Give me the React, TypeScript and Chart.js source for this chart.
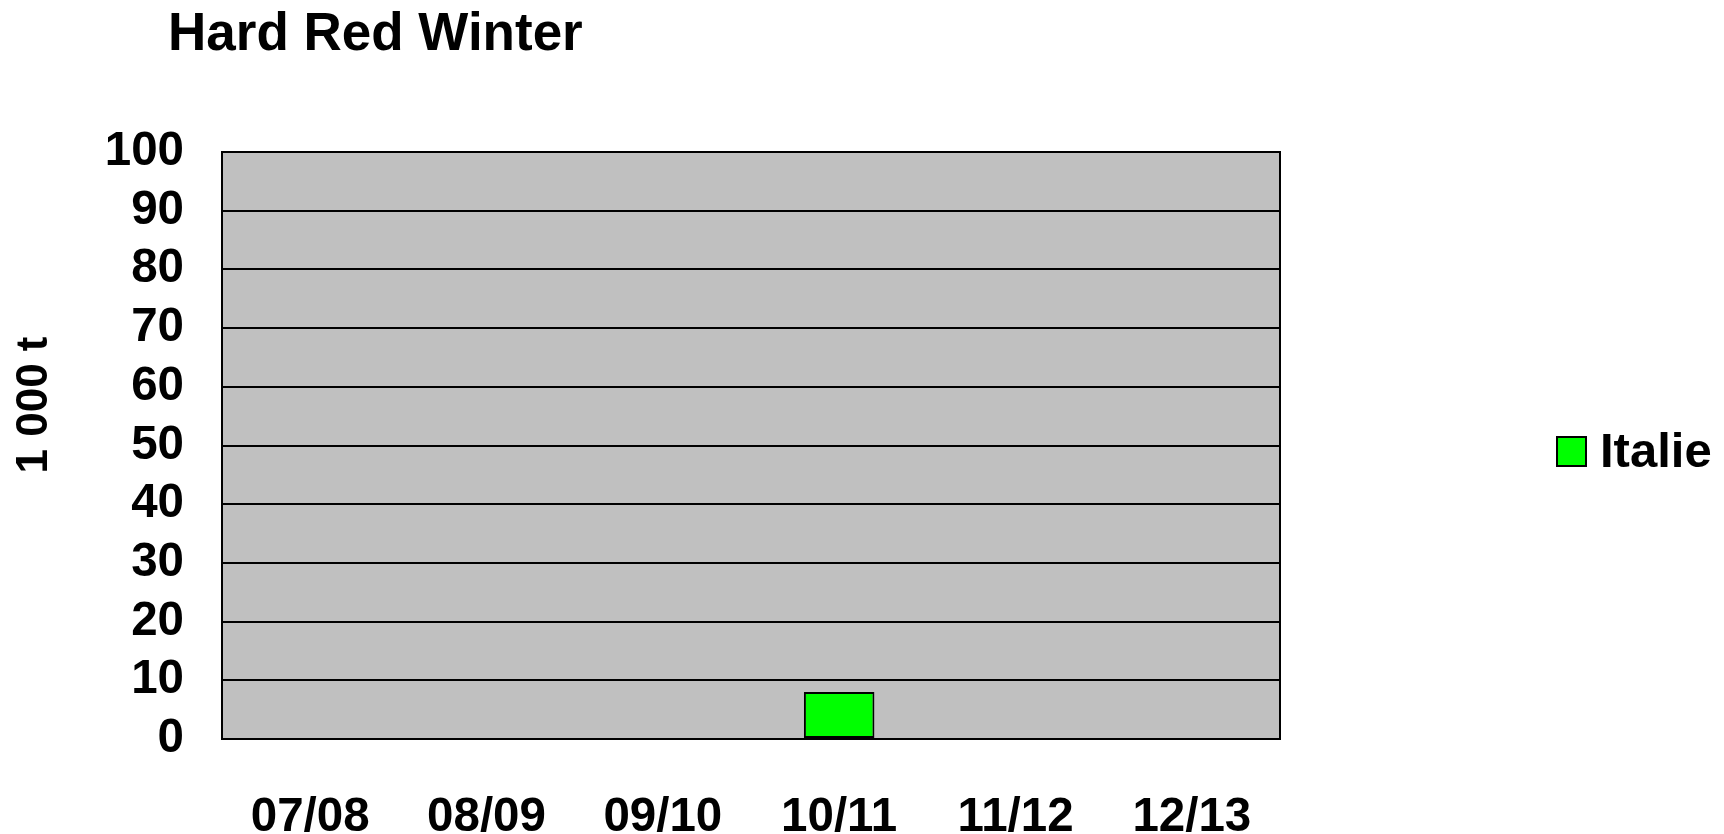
import React, { useEffect, useRef } from 'react';
import { Chart, registerables } from 'chart.js';

Chart.register(...registerables);

const chartTitle = 'Hard Red Winter';
const yAxisTitle = '1 000 t';
const categories = ['07/08', '08/09', '09/10', '10/11', '11/12', '12/13'];
const seriesName = 'Italie';
const italieValues: (number | null)[] = [null, null, null, 8, null, null];
const yMin = 0;
const yMax = 100;
const yStep = 10;

const FONT = '"Liberation Sans", Arial, Helvetica, sans-serif';
const W = 1724;
const H = 834;

const decorPlugin = {
  id: 'decor',
  beforeDraw(chart: any) {
    const { ctx, chartArea: a } = chart;
    ctx.save();
    ctx.fillStyle = '#c0c0c0';
    ctx.fillRect(a.left, a.top, a.right - a.left, a.bottom - a.top);
    ctx.restore();
  },
  beforeDatasetsDraw(chart: any) {
    const { ctx, chartArea: a } = chart;
    ctx.save();
    ctx.strokeStyle = '#000';
    ctx.lineWidth = 2;
    ctx.strokeRect(a.left, a.top, a.right - a.left, a.bottom - a.top);
    ctx.restore();
  },
  afterDraw(chart: any) {
    const { ctx } = chart;
    ctx.save();
    ctx.fillStyle = '#000';
    // chart title
    ctx.font = `bold 53px ${FONT}`;
    ctx.textAlign = 'left';
    ctx.textBaseline = 'alphabetic';
    ctx.fillText(chartTitle, 168, 50);
    // y axis title
    ctx.save();
    ctx.translate(35, 405);
    ctx.rotate(-Math.PI / 2);
    ctx.font = `bold 44px ${FONT}`;
    ctx.textAlign = 'center';
    ctx.textBaseline = 'middle';
    ctx.fillText(yAxisTitle, 0, 0);
    ctx.restore();
    // legend
    const ds = chart.data.datasets[0];
    const bx = 1557;
    const by = 437;
    const bs = 29;
    ctx.fillStyle = ds.backgroundColor;
    ctx.fillRect(bx, by, bs, bs);
    ctx.strokeStyle = '#000';
    ctx.lineWidth = 2;
    ctx.strokeRect(bx, by, bs, bs);
    ctx.fillStyle = '#000';
    ctx.font = `bold 49px ${FONT}`;
    ctx.textAlign = 'left';
    ctx.textBaseline = 'alphabetic';
    ctx.fillText(ds.label, 1600, 467);
    ctx.restore();
  },
};

export default function App() {
  const ref = useRef<HTMLCanvasElement | null>(null);

  useEffect(() => {
    if (!ref.current) return;
    const chart = new Chart(ref.current, {
      type: 'bar',
      data: {
        labels: categories,
        datasets: [
          {
            label: seriesName,
            data: italieValues,
            backgroundColor: '#00ff00',
            borderColor: '#000000',
            borderWidth: 2,
            borderSkipped: false,
            barPercentage: 0.4,
            categoryPercentage: 1.0,
          },
        ],
      },
      options: {
        responsive: false,
        animation: false,
        devicePixelRatio: 1,
        layout: { padding: { left: 0, top: 152, right: W - 1280, bottom: 0 } },
        plugins: {
          legend: { display: false },
          title: { display: false },
          tooltip: { enabled: false },
        },
        scales: {
          x: {
            grid: { display: false },
            border: { display: false },
            ticks: {
              color: '#000',
              padding: 42,
              font: { family: FONT, size: 47.5, weight: 'bold' },
              maxRotation: 0,
              autoSkip: false,
            },
            afterFit(scale: any) {
              scale.height = H - 739;
            },
          },
          y: {
            min: yMin,
            max: yMax,
            grid: { color: '#000', lineWidth: 2, drawTicks: false },
            border: { display: false },
            ticks: {
              stepSize: yStep,
              autoSkip: false,
              color: '#000',
              padding: 38,
              font: { family: FONT, size: 47.5, weight: 'bold' },
            },
            afterFit(scale: any) {
              scale.width = 222;
            },
          },
        },
      },
      plugins: [decorPlugin],
    });
    return () => chart.destroy();
  }, []);

  return (
    <div style={{ position: 'fixed', left: 0, top: 0, width: W, height: H, background: '#fff' }}>
      <canvas ref={ref} width={W} height={H} style={{ display: 'block' }} />
    </div>
  );
}
